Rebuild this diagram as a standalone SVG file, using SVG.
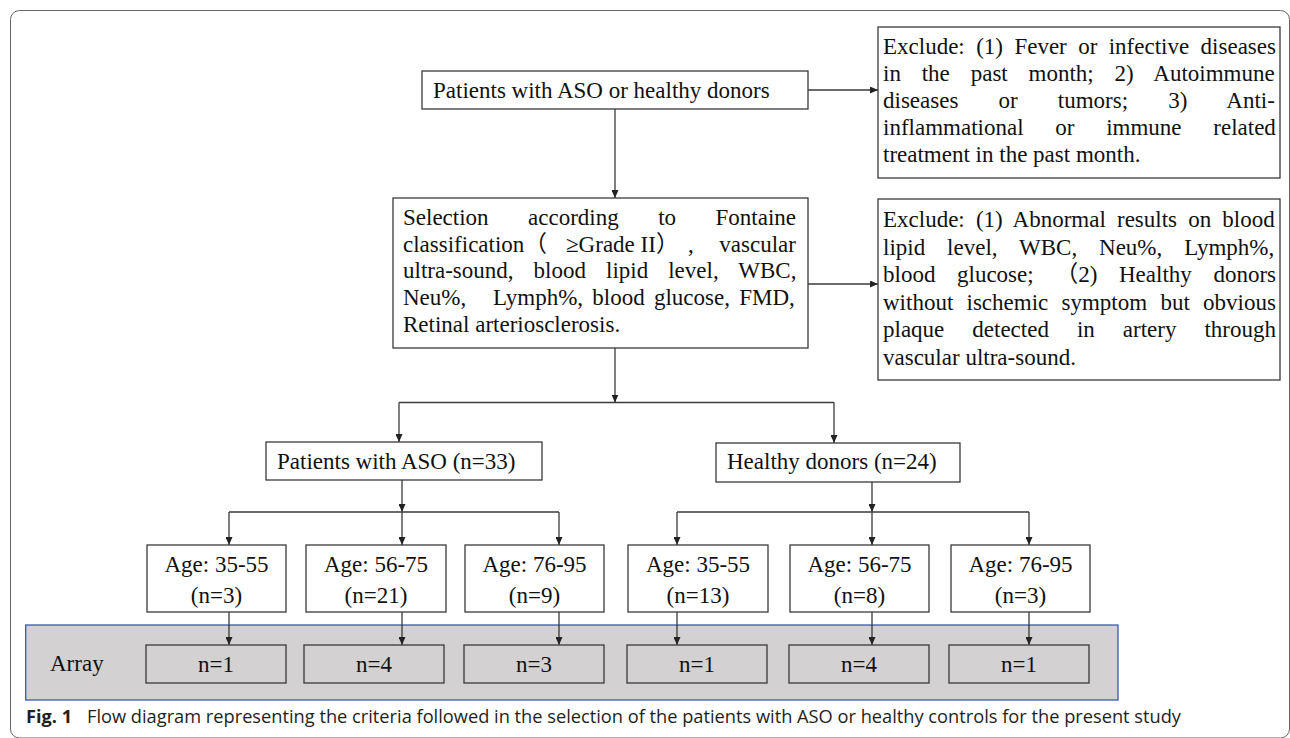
<svg xmlns="http://www.w3.org/2000/svg" width="1290" height="738" viewBox="0 0 1290 738">
<style>
.box{fill:#fff;stroke:#3a3a3a;stroke-width:1.3}
.abox{fill:#d3d1d2;stroke:#3a3a3a;stroke-width:1.3}
.t{font-family:"Liberation Serif","Noto Sans CJK SC",serif;font-size:23px;fill:#111}
.m{text-anchor:middle}
.e{text-anchor:end}
.c{stroke:#3a3a3a;stroke-width:1.3;fill:none}
.cap{font-family:"Open Sans","Noto Sans",sans-serif;font-size:17.5px;fill:#231f20}
</style>
<defs>
<marker id="ah" markerUnits="userSpaceOnUse" markerWidth="8" markerHeight="7" refX="8" refY="3.5" orient="auto">
<path d="M0,0 L8,3.5 L0,7 z" fill="#222"/>
</marker>
</defs>
<rect x="10.5" y="10.5" width="1279" height="727.5" rx="9" fill="none" stroke="#666" stroke-width="1"/>
<rect id="array-band" x="25.7" y="625" width="1092.3" height="75" fill="#d3d1d2" stroke="#3c5aa8" stroke-width="1.3"/>
<text x="50" y="671" class="t">Array</text>

<g id="connectors">
<path class="c" d="M615,109 V198" marker-end="url(#ah)"/>
<path class="c" d="M808,90 H878" marker-end="url(#ah)"/>
<path class="c" d="M808,284 H878" marker-end="url(#ah)"/>
<path class="c" d="M615,348 V402.5" marker-end="url(#ah)"/>
<path class="c" d="M399,402.5 H834"/>
<path class="c" d="M399,402.5 V442" marker-end="url(#ah)"/>
<path class="c" d="M834,402.5 V443" marker-end="url(#ah)"/>
<path class="c" d="M402,480 V512" marker-end="url(#ah)"/>
<path class="c" d="M229,512 H559"/>
<path class="c" d="M229,512 V545" marker-end="url(#ah)"/>
<path class="c" d="M402,512 V545" marker-end="url(#ah)"/>
<path class="c" d="M559,512 V545" marker-end="url(#ah)"/>
<path class="c" d="M872,482 V512" marker-end="url(#ah)"/>
<path class="c" d="M677,512 H1029"/>
<path class="c" d="M677,512 V545" marker-end="url(#ah)"/>
<path class="c" d="M872,512 V545" marker-end="url(#ah)"/>
<path class="c" d="M1029,512 V545" marker-end="url(#ah)"/>
<path class="c" d="M229,612 V645" marker-end="url(#ah)"/>
<path class="c" d="M402,612 V645" marker-end="url(#ah)"/>
<path class="c" d="M559,612 V645" marker-end="url(#ah)"/>
<path class="c" d="M677,612 V645" marker-end="url(#ah)"/>
<path class="c" d="M872,612 V645" marker-end="url(#ah)"/>
<path class="c" d="M1029,612 V645" marker-end="url(#ah)"/>
</g>

<g id="start">
<rect class="box" x="422" y="71" width="386" height="38"/>
<text class="t" x="433" y="98">Patients with ASO or healthy donors</text>
</g>

<g id="exclude1">
<rect class="box" x="878" y="27" width="402" height="151"/>
<text class="t" x="883" y="54" word-spacing="5.66">Exclude: (1) Fever or infective diseases</text>
<text class="t" x="883" y="81" word-spacing="15.09">in the past month; 2) Autoimmune</text>
<text class="t" x="883" y="108" word-spacing="34.4">diseases or tumors; 3) Anti-</text>
<text class="t" x="883" y="135" word-spacing="26">inflammational or immune related</text>
<text class="t" x="883" y="162">treatment in the past month.</text>
</g>

<g id="selection">
<rect class="box" x="393" y="198" width="415" height="150"/>
<text class="t" x="403" y="225" word-spacing="33.7">Selection according to Fontaine</text>
<text class="t" x="403" y="252">classification</text>
<text class="t" x="524" y="252">（</text>
<text class="t" x="566" y="252">≥Grade II</text>
<text class="t" x="656" y="252">）</text>
<text class="t" x="688" y="252">,</text>
<text class="t e" x="796" y="252">vascular</text>
<text class="t" x="403" y="278" word-spacing="14.3">ultra-sound, blood lipid level, WBC,</text>
<text class="t" x="403" y="305">Neu%,</text>
<text class="t" x="493" y="305" word-spacing="3.5">Lymph%, blood glucose, FMD,</text>
<text class="t" x="403" y="332">Retinal arteriosclerosis.</text>
</g>

<g id="exclude2">
<rect class="box" x="878" y="199" width="402" height="181"/>
<text class="t" x="883" y="227" word-spacing="5.39">Exclude: (1) Abnormal results on blood</text>
<text class="t" x="883" y="254.5" word-spacing="16.15">lipid level, WBC, Neu%, Lymph%,</text>
<text class="t" x="883" y="282" word-spacing="15.85">blood glucose; （2) Healthy donors</text>
<text class="t" x="883" y="309.5" word-spacing="7.5">without ischemic symptom but obvious</text>
<text class="t" x="883" y="337" word-spacing="22.25">plaque detected in artery through</text>
<text class="t" x="883" y="364.5">vascular ultra-sound.</text>
</g>

<g id="aso">
<rect class="box" x="266" y="442" width="276" height="38"/>
<text class="t" x="277" y="469">Patients with ASO (n=33)</text>
</g>
<g id="healthy">
<rect class="box" x="716" y="443" width="244" height="39"/>
<text class="t" x="727" y="469">Healthy donors (n=24)</text>
</g>

<g id="age1"><rect class="box" x="147" y="545" width="139" height="67"/>
<text class="t m" x="216.5" y="572">Age: 35-55</text><text class="t m" x="216.5" y="603">(n=3)</text></g>
<g id="age2"><rect class="box" x="306" y="545" width="140" height="67"/>
<text class="t m" x="376" y="572">Age: 56-75</text><text class="t m" x="376" y="603">(n=21)</text></g>
<g id="age3"><rect class="box" x="465" y="545" width="139" height="67"/>
<text class="t m" x="534.5" y="572">Age: 76-95</text><text class="t m" x="534.5" y="603">(n=9)</text></g>
<g id="age4"><rect class="box" x="628" y="545" width="140" height="67"/>
<text class="t m" x="698" y="572">Age: 35-55</text><text class="t m" x="698" y="603">(n=13)</text></g>
<g id="age5"><rect class="box" x="790" y="545" width="139" height="67"/>
<text class="t m" x="859.5" y="572">Age: 56-75</text><text class="t m" x="859.5" y="603">(n=8)</text></g>
<g id="age6"><rect class="box" x="951" y="545" width="139" height="67"/>
<text class="t m" x="1020.5" y="572">Age: 76-95</text><text class="t m" x="1020.5" y="603">(n=3)</text></g>

<g id="arr1"><rect class="abox" x="146" y="645" width="140" height="38"/><text class="t m" x="216" y="672">n=1</text></g>
<g id="arr2"><rect class="abox" x="304" y="645" width="140" height="38"/><text class="t m" x="374" y="672">n=4</text></g>
<g id="arr3"><rect class="abox" x="464" y="645" width="140" height="38"/><text class="t m" x="534" y="672">n=3</text></g>
<g id="arr4"><rect class="abox" x="627" y="645" width="140" height="38"/><text class="t m" x="697" y="672">n=1</text></g>
<g id="arr5"><rect class="abox" x="789" y="645" width="140" height="38"/><text class="t m" x="859" y="672">n=4</text></g>
<g id="arr6"><rect class="abox" x="949" y="645" width="140" height="38"/><text class="t m" x="1019" y="672">n=1</text></g>

<g id="caption">
<text class="cap" x="26" y="723" font-weight="bold" textLength="46" lengthAdjust="spacingAndGlyphs">Fig. 1</text>
<text class="cap" x="87" y="723" textLength="1094" lengthAdjust="spacingAndGlyphs">Flow diagram representing the criteria followed in the selection of the patients with ASO or healthy controls for the present study</text>
</g>
</svg>
